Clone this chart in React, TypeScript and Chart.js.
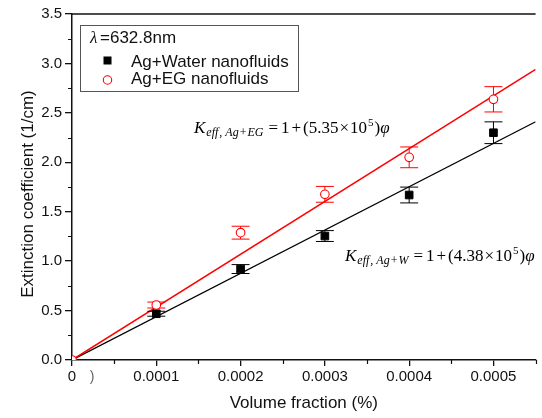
import React, { useEffect, useRef } from 'react';
import { Chart, registerables } from 'chart.js';

Chart.register(...registerables);

// ---------------- data ----------------
const waterPhi = [0.0001, 0.0002, 0.0003, 0.0004, 0.0005];
const waterValues = [0.468, 0.92, 1.254, 1.669, 2.299];
const waterErrors = [0.025, 0.045, 0.055, 0.08, 0.11];

const egPhi = [0, 0.0001, 0.0002, 0.0003, 0.0004, 0.0005];
const egValues = [0, 0.556, 1.288, 1.676, 2.05, 2.637];
const egErrors = [0, 0.03, 0.065, 0.08, 0.105, 0.128];

const fitPhi = [0, 0.00055];
const waterFit = [0, 2.41];
const egFit = [0, 2.94];

const xTicks = [0, 0.0001, 0.0002, 0.0003, 0.0004, 0.0005];
const xMinorTicks = [0.00005, 0.00015, 0.00025, 0.00035, 0.00045, 0.00055];
const yTicks = [0, 0.5, 1, 1.5, 2, 2.5, 3, 3.5];
const yMinorTicks = [0.25, 0.75, 1.25, 1.75, 2.25, 2.75, 3.25];

const X_MIN = 0;
const X_MAX = 0.00055;
const Y_MIN = 0;
const Y_MAX = 3.5;

const legendTitle = '=632.8nm';
const waterLabel = 'Ag+Water nanofluids';
const egLabel = 'Ag+EG nanofluids';
const xTitle = 'Volume fraction (%)';
const yTitle = 'Extinction coefficient (1/cm)';

// ---------------- styles ----------------
const SANS = '"Liberation Sans", Arial, Helvetica, sans-serif';
const SERIF = '"Liberation Serif", "Times New Roman", serif';
const RED = '#ff0000';
const INK = '#111111';

const errorMap: Record<number, number[]> = { 0: egErrors, 1: waterErrors };
const errorColor: Record<number, string> = { 0: RED, 1: '#000000' };

type Seg = { t: string; font: string; dy?: number; gap?: number };

function drawSegs(ctx: CanvasRenderingContext2D, x: number, y: number, segs: Seg[]) {
  let cx = x;
  for (const s of segs) {
    ctx.font = s.font;
    ctx.fillText(s.t, cx, y + (s.dy || 0));
    cx += ctx.measureText(s.t).width + (s.gap || 0);
  }
}

function equation(coef: string, sub: Seg[]): Seg[] {
  const main = `17px ${SERIF}`;
  return [
    { t: 'K', font: `italic 17px ${SERIF}`, gap: 1 },
    ...sub,
    { t: '=', font: main, gap: 3 },
    { t: '1', font: main, gap: 2 },
    { t: '+', font: main, gap: 2 },
    { t: '(' + coef, font: main, gap: 1 },
    { t: '×', font: main, gap: 1 },
    { t: '10', font: main, gap: 1 },
    { t: '5', font: `11px ${SERIF}`, dy: -7, gap: 1 },
    { t: ')', font: main },
    { t: 'φ', font: `italic 17px ${SERIF}` },
  ];
}

const subI = `italic 12px ${SERIF}`;
const subU = `12px ${SERIF}`;

const errorBarPlugin = {
  id: 'errorBars',
  beforeDatasetDraw(chart: any, args: any) {
    const errs = errorMap[args.index];
    if (!errs) return;
    const { ctx, chartArea } = chart;
    const xs = chart.scales.x;
    const ys = chart.scales.y;
    const data = chart.data.datasets[args.index].data as { x: number; y: number }[];
    ctx.save();
    ctx.beginPath();
    ctx.rect(chartArea.left, chartArea.top, chartArea.right - chartArea.left, chartArea.bottom - chartArea.top);
    ctx.clip();
    ctx.strokeStyle = errorColor[args.index];
    ctx.lineWidth = 1;
    data.forEach((p, i) => {
      const e = errs[i];
      if (!e) return;
      const px = xs.getPixelForValue(p.x);
      const top = ys.getPixelForValue(p.y + e);
      const bot = ys.getPixelForValue(p.y - e);
      ctx.beginPath();
      ctx.moveTo(px, top);
      ctx.lineTo(px, bot);
      ctx.moveTo(px - 9, top);
      ctx.lineTo(px + 9, top);
      ctx.moveTo(px - 9, bot);
      ctx.lineTo(px + 9, bot);
      ctx.stroke();
    });
    ctx.restore();
  },
};

const decorPlugin = {
  id: 'decor',
  afterDraw(chart: any) {
    const { ctx, chartArea } = chart;
    const xs = chart.scales.x;
    const ys = chart.scales.y;
    ctx.save();
    // top frame line
    ctx.strokeStyle = INK;
    ctx.lineWidth = 1.5;
    ctx.beginPath();
    ctx.moveTo(chartArea.left, chartArea.top);
    ctx.lineTo(chartArea.right, chartArea.top);
    ctx.stroke();
    // minor ticks
    ctx.lineWidth = 1.2;
    ctx.beginPath();
    xMinorTicks.forEach((v) => {
      const px = Math.round(xs.getPixelForValue(v)) + 0.5;
      ctx.moveTo(px, chartArea.bottom);
      ctx.lineTo(px, chartArea.bottom + 4);
    });
    yMinorTicks.forEach((v) => {
      const py = Math.round(ys.getPixelForValue(v)) + 0.5;
      ctx.moveTo(chartArea.left, py);
      ctx.lineTo(chartArea.left - 4, py);
    });
    ctx.stroke();

    // y axis title
    ctx.save();
    ctx.translate(28, 194);
    ctx.rotate(-Math.PI / 2);
    ctx.fillStyle = INK;
    ctx.font = `17px ${SANS}`;
    ctx.textAlign = 'center';
    ctx.textBaseline = 'middle';
    ctx.fillText(yTitle, 0, 0);
    ctx.restore();

    // stray glyph next to the 0 tick label
    ctx.fillStyle = '#666';
    ctx.font = `14px ${SANS}`;
    ctx.textBaseline = 'middle';
    ctx.textAlign = 'center';
    ctx.fillText(')', 92, 377);

    // legend box
    ctx.textAlign = 'left';
    ctx.textBaseline = 'alphabetic';
    ctx.strokeStyle = '#555';
    ctx.lineWidth = 1;
    ctx.strokeRect(80.5, 25.5, 218, 66);
    ctx.fillStyle = INK;
    ctx.font = `italic 17px ${SERIF}`;
    ctx.fillText('λ', 90, 43);
    ctx.font = `17px ${SANS}`;
    ctx.fillText(legendTitle, 100, 43);
    ctx.fillText(waterLabel, 131, 66.5);
    ctx.fillText(egLabel, 131, 84);
    ctx.fillStyle = '#000';
    ctx.fillRect(103.5, 56.5, 8, 8);
    ctx.beginPath();
    ctx.arc(107.5, 80, 4.2, 0, Math.PI * 2);
    ctx.strokeStyle = RED;
    ctx.lineWidth = 1.1;
    ctx.stroke();

    // equations
    ctx.fillStyle = '#000';
    drawSegs(
      ctx,
      194,
      133,
      equation('5.35', [
        { t: 'eff', font: subI, dy: 3, gap: 1 },
        { t: ',', font: subU, dy: 3, gap: 3 },
        { t: 'Ag', font: subI, dy: 3, gap: 1 },
        { t: '+', font: subU, dy: 3, gap: 1 },
        { t: 'EG', font: subI, dy: 3, gap: 5 },
      ])
    );
    drawSegs(
      ctx,
      345,
      260.5,
      equation('4.38', [
        { t: 'eff', font: subI, dy: 3, gap: 1 },
        { t: ',', font: subU, dy: 3, gap: 3 },
        { t: 'Ag', font: subI, dy: 3, gap: 1 },
        { t: '+', font: subU, dy: 3, gap: 1 },
        { t: 'W', font: subI, dy: 3, gap: 5 },
      ])
    );
    ctx.restore();
  },
};

export default function App() {
  const ref = useRef<HTMLCanvasElement>(null);

  useEffect(() => {
    if (!ref.current) return;
    const tickFont = { family: SANS, size: 15 };
    const titleFont = { family: SANS, size: 17 };
    const chart = new Chart(ref.current, {
      type: 'scatter',
      data: {
        datasets: [
          {
            label: egLabel,
            data: egPhi.map((x, i) => ({ x, y: egValues[i] })),
            pointStyle: 'circle',
            pointRadius: 4.3,
            pointBorderWidth: 1.1,
            borderColor: RED,
            backgroundColor: '#ffffff',
            showLine: false,
            clip: 0,
          },
          {
            label: waterLabel,
            data: waterPhi.map((x, i) => ({ x, y: waterValues[i] })),
            pointStyle: 'rect',
            pointRadius: 5.4,
            pointBorderWidth: 1,
            borderColor: '#000',
            backgroundColor: '#000',
            showLine: false,
            clip: 0,
          },
          {
            label: 'EG fit',
            data: fitPhi.map((x, i) => ({ x, y: egFit[i] })),
            showLine: true,
            borderColor: RED,
            borderWidth: 1.5,
            pointRadius: 0,
            clip: 0,
          },
          {
            label: 'Water fit',
            data: fitPhi.map((x, i) => ({ x, y: waterFit[i] })),
            showLine: true,
            borderColor: '#000',
            borderWidth: 1.3,
            pointRadius: 0,
            clip: 0,
          },
        ],
      },
      options: {
        responsive: false,
        animation: false,
        devicePixelRatio: 1,
        layout: { padding: { top: 14, right: 0, left: 0, bottom: 0 } },
        plugins: { legend: { display: false }, tooltip: { enabled: false } },
        scales: {
          x: {
            type: 'linear',
            min: X_MIN,
            max: X_MAX,
            afterBuildTicks: (s: any) => {
              s.ticks = xTicks.map((v) => ({ value: v }));
            },
            afterFit: (s: any) => {
              s.height = 58;
            },
            ticks: {
              autoSkip: false,
              maxRotation: 0,
              padding: 2,
              color: INK,
              font: tickFont,
              callback: (v: any) => (Number(v) === 0 ? '0' : Number(v).toFixed(4)),
            },
            grid: { drawOnChartArea: false, drawTicks: true, tickLength: 6, color: INK, lineWidth: 1.3 },
            border: { display: true, color: INK, width: 1.5 },
            title: { display: true, text: xTitle, color: INK, font: titleFont, padding: { top: 0, bottom: 4 } },
          },
          y: {
            type: 'linear',
            min: Y_MIN,
            max: Y_MAX,
            afterBuildTicks: (s: any) => {
              s.ticks = yTicks.map((v) => ({ value: v }));
            },
            afterFit: (s: any) => {
              s.width = 72;
            },
            ticks: {
              autoSkip: false,
              padding: 3,
              color: INK,
              font: tickFont,
              callback: (v: any) => Number(v).toFixed(1),
            },
            grid: { drawOnChartArea: false, drawTicks: true, tickLength: 7, color: INK, lineWidth: 1.3 },
            border: { display: true, color: INK, width: 1.5 },
            title: { display: false },
          },
        },
      },
      plugins: [errorBarPlugin, decorPlugin],
    } as any);
    return () => chart.destroy();
  }, []);

  return (
    <div style={{ position: 'absolute', left: 0, top: 0, width: 542, height: 418, background: '#fff' }}>
      <canvas ref={ref} width={542} height={418} style={{ display: 'block', width: 542, height: 418 }} />
    </div>
  );
}
